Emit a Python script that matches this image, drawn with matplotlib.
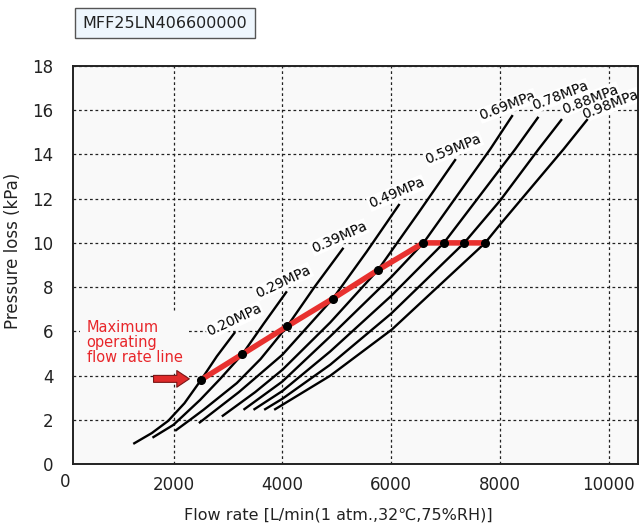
import numpy as np
import matplotlib.pyplot as plt
import matplotlib.transforms as mtransforms

plt.rcParams['font.family'] = ['DejaVu Sans', 'Noto Sans CJK JP']

# pressure curves (flow L/min, pressure loss kPa)
flow_020 = [1258, 1600, 1900, 2200, 2507, 2795, 3132]
dp_020 = [0.91, 1.40, 1.95, 2.75, 3.81, 4.87, 5.97]
flow_029 = [1611, 1997, 2488, 2856, 3266, 3655, 4083]
dp_029 = [1.19, 1.77, 2.90, 3.85, 4.97, 6.34, 7.81]
flow_039 = [2028, 2304, 2549, 3163, 3600, 4090, 4601, 5124]
dp_039 = [1.50, 2.00, 2.45, 3.66, 4.75, 6.23, 8.04, 9.78]
flow_049 = [2465, 3200, 4000, 4929, 5550, 6155]
dp_049 = [1.85, 3.25, 4.94, 7.48, 9.60, 11.76]
flow_059 = [2887, 3500, 4000, 4880, 5757, 6500, 7189]
dp_059 = [2.15, 3.25, 4.26, 6.40, 8.77, 11.35, 13.79]
flow_069 = [3285, 4000, 4880, 6000, 6595, 7823, 8236]
dp_069 = [2.45, 3.73, 5.77, 8.45, 10.0, 14.24, 15.78]
flow_078 = [3469, 4000, 4880, 6000, 6970, 8283, 8709]
dp_078 = [2.45, 3.30, 5.09, 7.60, 10.0, 14.24, 15.70]
flow_088 = [3665, 4000, 4880, 6000, 7344, 8000, 8712, 9142]
dp_088 = [2.45, 2.95, 4.49, 6.80, 10.0, 11.9, 14.24, 15.6]
flow_098 = [3849, 4879, 6013, 7729, 8000, 9172, 9615]
dp_098 = [2.45, 3.99, 6.08, 10.0, 10.82, 14.24, 15.6]

curve_labels = ['0.20MPa', '0.29MPa', '0.39MPa', '0.49MPa', '0.59MPa',
                '0.69MPa', '0.78MPa', '0.88MPa', '0.98MPa']
label_x = [3116, 4020, 5043, 6098, 7147, 8141, 9109, 9667, 10040]
label_y = [6.50, 8.25, 10.25, 12.25, 14.25, 16.2, 16.65, 16.5, 16.25]
label_rot = [25, 25, 24, 23, 22, 21, 21, 21, 21]

max_flow = [2507, 3266, 4090, 4929, 5757, 6595, 6970, 7344, 7729]
max_dp = [3.81, 4.97, 6.23, 7.48, 8.77, 10.0, 10.0, 10.0, 10.0]

xticks = [2000, 4000, 6000, 8000, 10000]
yticks = [0, 2, 4, 6, 8, 10, 12, 14, 16, 18]

flows = [flow_020, flow_029, flow_039, flow_049, flow_059, flow_069, flow_078, flow_088, flow_098]
dps = [dp_020, dp_029, dp_039, dp_049, dp_059, dp_069, dp_078, dp_088, dp_098]

fig = plt.figure(figsize=(6.4, 5.24), dpi=100)
ax = fig.add_axes([73/640, 1-464/524, 565/640, 398/524])
ax.set_facecolor('#f9f9f9')

for fl, dp in zip(flows, dps):
    ax.plot(fl, dp, color='black', lw=1.7, solid_joinstyle='round', solid_capstyle='butt', zorder=3)

for lab, lx, ly, r in zip(curve_labels, label_x, label_y, label_rot):
    ax.text(lx, ly, lab, rotation=r, rotation_mode='anchor', ha='center', va='center',
            fontsize=10, zorder=2.5, clip_on=False,
            bbox=dict(fc='white', ec='none', pad=0.5))

ax.plot(max_flow, max_dp, color='#e8312f', lw=4, solid_capstyle='butt', zorder=5)
ax.plot(max_flow, max_dp, 'o', color='black', ms=5.5, zorder=6)

ax.text(400, 5.5, 'Maximum\noperating\nflow rate line', color='#e8262a', fontsize=10.5,
        ha='left', va='center', linespacing=1.0, zorder=2.4,
        bbox=dict(fc='#f9f9f9', ec='none', pad=5))
ax.annotate('', xy=(2340, 3.85), xytext=(1580, 3.85),
            arrowprops=dict(arrowstyle='simple,head_width=1.2,head_length=0.9,tail_width=0.5',
                            fc='#e02a2a', ec='#7a1515', lw=0.8), zorder=5)

ax.set_xlim(150, 10540)
ax.set_ylim(0, 18)
ax.set_xticks(xticks)
ax.set_yticks(yticks)
ax.grid(True, color='#222222', linestyle=(0, (2.2, 2.2)), lw=0.9)
ax.set_axisbelow(True)
ax.tick_params(length=0, labelsize=12, colors='#222222')
ax.tick_params(axis='x', pad=9)
ax.tick_params(axis='y', pad=14)
trans = mtransforms.blended_transform_factory(ax.transData, ax.transAxes)
ax.text(0, -0.023, '0', transform=trans, ha='center', va='top', fontsize=12, color='#222222')
for s in ax.spines.values():
    s.set_linewidth(1.4)
    s.set_color('#222222')

ax.set_xlabel('Flow rate [L/min(1 atm.,32\u2103,75%RH)]', fontsize=11.5, color='#222222')
ax.xaxis.set_label_coords(0.469, -0.11)
ax.set_ylabel('Pressure loss (kPa)', fontsize=12, color='#222222')
ax.yaxis.set_label_coords(-0.09, 0.535)

fig.text(165/640, 1-23/524, 'MFF25LN406600000', ha='center', va='center', fontsize=11.5,
         color='#222222',
         bbox=dict(boxstyle='square,pad=0.45', fc='#eef6fd', ec='#555555', lw=1))

fig.savefig('out.png', dpi=100)
